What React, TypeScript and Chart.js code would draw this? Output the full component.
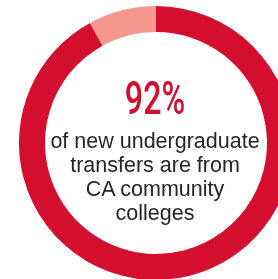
import React, { useEffect, useRef } from "react";
import { Chart, registerables } from "chart.js";

Chart.register(...registerables);

const categories = ["CA community colleges", "Other sources"];
const shares = [92, 8];
const sliceColors = ["#D30E2F", "#F7988F"];
const headline = "92%";
const captionLines = ["of new undergraduate", "transfers are from", "CA community", "colleges"];

export default function App() {
  const ref = useRef<HTMLCanvasElement | null>(null);

  useEffect(() => {
    if (!ref.current) return;
    const chart = new Chart(ref.current, {
      type: "doughnut",
      data: {
        labels: categories,
        datasets: [
          {
            data: shares,
            backgroundColor: sliceColors,
            borderWidth: 0,
            hoverOffset: 0,
          },
        ],
      },
      options: {
        responsive: false,
        animation: false,
        cutout: "81%",
        rotation: 0,
        layout: { padding: 0 },
        plugins: {
          legend: { display: false },
          tooltip: { enabled: false },
          title: { display: false },
        },
        events: [],
      },
    });
    return () => chart.destroy();
  }, []);

  return (
    <div
      style={{
        position: "fixed",
        left: 0,
        top: 0,
        width: 278,
        height: 279,
        overflow: "hidden",
        background: "#ffffff",
      }}
    >
      <canvas
        ref={ref}
        width={274}
        height={274}
        style={{ position: "absolute", left: 19, top: 6, width: 274, height: 274 }}
      />
      <div
        style={{
          position: "absolute",
          left: 55,
          width: 200,
          top: 75,
          textAlign: "center",
          fontFamily: "Roboto, 'Liberation Sans', Arial, sans-serif",
          fontWeight: 500,
          fontSize: 46,
          lineHeight: "46px",
          color: "#D30E2F",
          transform: "scaleX(0.7)",
          transformOrigin: "center",
        }}
      >
        {headline}
      </div>
      <div
        style={{
          position: "absolute",
          left: 30,
          width: 250,
          top: 129,
          textAlign: "center",
          fontFamily: "'Liberation Sans', Arial, sans-serif",
          fontSize: 21.5,
          lineHeight: "24px",
          color: "#262626",
        }}
      >
        {captionLines.map((l, i) => (
          <div key={i}>{l}</div>
        ))}
      </div>
    </div>
  );
}
